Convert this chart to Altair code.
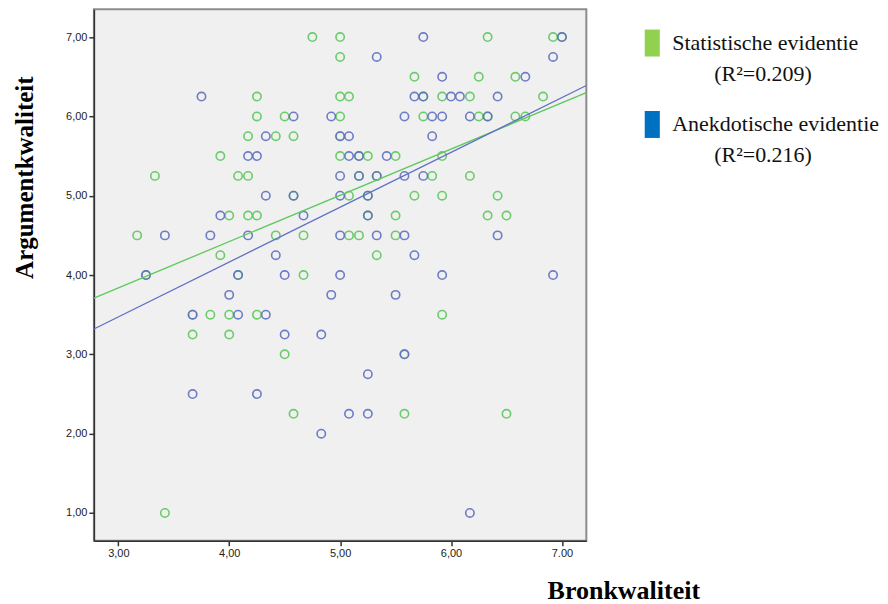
import altair as alt
import pandas as pd

# ---- data ----
series_names = ["Statistische evidentie", "Anekdotische evidentie"]
r_squared = ["0.209", "0.216"]
point_colors = ["#5cc95c", "#6070c4"]
legend_colors = ["#92d050", "#0070c0"]

stat_y = ([7.0]*5 + [6.75] + [6.5]*3 + [6.25]*7 + [6.0]*8 + [5.75]*4 + [5.5]*6 + [5.25]*7
          + [5.0]*6 + [4.75]*7 + [4.5]*6 + [4.25]*2 + [4.0]*3 + [3.5]*5 + [3.25]*2
          + [3.0]*2 + [2.25]*3 + [1.0])
stat_x = [4.75, 5.0, 6.33, 6.92, 7.0,
          5.0,
          5.67, 6.25, 6.58,
          4.25, 5.0, 5.08, 5.75, 5.92, 6.17, 6.83,
          4.25, 4.5, 5.0, 5.75, 6.25, 6.33, 6.58, 6.67,
          4.17, 4.42, 4.58, 5.0,
          3.92, 5.0, 5.17, 5.25, 5.5, 5.92,
          3.33, 4.08, 4.17, 5.17, 5.33, 5.83, 6.17,
          4.58, 5.08, 5.25, 5.67, 5.92, 6.42,
          4.0, 4.17, 4.25, 5.25, 5.5, 6.33, 6.5,
          3.17, 4.42, 4.67, 5.08, 5.17, 5.5,
          3.92, 5.33,
          3.25, 4.08, 4.67,
          3.67, 3.83, 4.0, 4.25, 5.92,
          3.67, 4.0,
          4.5, 5.58,
          4.58, 5.58, 6.5,
          3.42]

anek_y = ([7.0]*2 + [6.75]*2 + [6.5]*2 + [6.25]*6 + [6.0]*7 + [5.75]*4 + [5.5]*5 + [5.25]*5
          + [5.0]*4 + [4.75]*3 + [4.5]*7 + [4.25]*2 + [4.0]*6 + [3.75]*3 + [3.5]*3 + [3.25]*2
          + [3.0] + [2.75] + [2.5]*2 + [2.25]*2 + [2.0] + [1.0])
anek_x = [5.75, 7.0,
          5.33, 6.92,
          5.92, 6.67,
          3.75, 5.67, 5.75, 6.0, 6.08, 6.42,
          4.58, 4.92, 5.58, 5.83, 5.92, 6.17, 6.33,
          4.33, 5.0, 5.08, 5.83,
          4.17, 4.25, 5.08, 5.17, 5.42,
          5.0, 5.17, 5.33, 5.58, 5.75,
          4.33, 4.58, 5.0, 5.25,
          3.92, 4.67, 5.25,
          3.42, 3.83, 4.17, 5.0, 5.33, 5.58, 6.42,
          4.42, 5.67,
          3.25, 4.08, 4.5, 5.0, 5.92, 6.92,
          4.0, 4.92, 5.5,
          3.67, 4.08, 4.33,
          4.5, 4.83,
          5.58,
          5.25,
          3.67, 4.25,
          5.08, 5.25,
          4.83,
          6.17]

# fit lines (end points, at the edges of the x range)
fit_x = [2.78, 7.22]
fit_stat_y = [3.71, 6.30]
fit_anek_y = [3.32, 6.39]

x_ticks = [3, 4, 5, 6, 7]
y_ticks = [1, 2, 3, 4, 5, 6, 7]
x_domain = [2.78, 7.22]
y_domain = [0.65, 7.35]

df = pd.concat([
    pd.DataFrame({"Bronkwaliteit": stat_x, "Argumentkwaliteit": stat_y, "groep": series_names[0]}),
    pd.DataFrame({"Bronkwaliteit": anek_x, "Argumentkwaliteit": anek_y, "groep": series_names[1]}),
], ignore_index=True)

fit_df = pd.concat([
    pd.DataFrame({"Bronkwaliteit": fit_x, "Argumentkwaliteit": fit_stat_y, "groep": series_names[0]}),
    pd.DataFrame({"Bronkwaliteit": fit_x, "Argumentkwaliteit": fit_anek_y, "groep": series_names[1]}),
], ignore_index=True)

legend_df = pd.DataFrame({
    "groep": series_names,
    "r2": [f"(R²={r})" for r in r_squared],
})

color_scale = alt.Scale(domain=series_names, range=point_colors)

x_enc = alt.X("Bronkwaliteit:Q",
              scale=alt.Scale(domain=x_domain, nice=False, zero=False),
              axis=alt.Axis(values=x_ticks, title="Bronkwaliteit", grid=False,
                            labelExpr="datum.value == 7 ? '7.00' : replace(format(datum.value, '.2f'), '.', ',')",
                            titleX=530, titleY=58, titleAlign="center", titleBaseline="alphabetic",
                            titleFont="Liberation Serif", titleFontSize=26, titleFontWeight="bold",
                            titleColor="#000000"))
y_enc = alt.Y("Argumentkwaliteit:Q",
              scale=alt.Scale(domain=y_domain, nice=False, zero=False),
              axis=alt.Axis(values=y_ticks, title="Argumentkwaliteit", grid=False,
                            labelExpr="replace(format(datum.value, '.2f'), '.', ',')",
                            titleX=-61, titleY=168, titleAlign="center", titleBaseline="alphabetic",
                            titleAngle=270,
                            titleFont="Liberation Serif", titleFontSize=25, titleFontWeight="bold",
                            titleColor="#000000"))

points = alt.Chart(df).mark_point(shape="circle", filled=False, size=70, strokeWidth=1.6, opacity=0.9).encode(
    x=x_enc, y=y_enc,
    color=alt.Color("groep:N", scale=color_scale, legend=None),
)

lines = alt.Chart(fit_df).mark_line(strokeWidth=1.3, clip=True).encode(
    x=alt.X("Bronkwaliteit:Q"), y=alt.Y("Argumentkwaliteit:Q"),
    color=alt.Color("groep:N", scale=color_scale, legend=None),
    detail="groep:N",
)

scatter = alt.layer(points, lines).properties(
    width=493, height=532,
    view=alt.ViewBackground(fill="#f0f0f0", stroke="#8c8c8c", strokeWidth=2),
)

leg_base = alt.Chart(legend_df).encode(
    y=alt.Y("groep:N", sort=series_names,
            scale=alt.Scale(type="point", padding=0.414), axis=None),
)
leg_symbols = leg_base.mark_point(
    shape="M-0.56,-1H0.56V1H-0.56Z", filled=True, size=729, opacity=1, strokeWidth=0
).encode(
    color=alt.Color("groep:N", scale=alt.Scale(domain=series_names, range=legend_colors), legend=None)
)
leg_text1 = leg_base.mark_text(
    align="left", baseline="alphabetic", dx=20, dy=7,
    font="Liberation Serif", fontSize=22, color="#111111"
).encode(text="groep:N")
leg_text2 = leg_base.mark_text(
    align="left", baseline="alphabetic", dx=62, dy=38,
    font="Liberation Serif", fontSize=22, color="#111111"
).encode(text="r2:N")

legend_panel = alt.layer(leg_symbols, leg_text1, leg_text2).properties(
    width=20, height=149,
    view=alt.ViewBackground(strokeOpacity=0),
)

chart = alt.hconcat(scatter, legend_panel, spacing=56, bounds="flush").properties(
    padding={"left": 4, "top": 0, "right": 0, "bottom": 0},
    background="#ffffff",
).resolve_scale(color="independent").configure_axis(
    grid=False,
    domainColor="#333333", domainWidth=1.5,
    tickColor="#333333", tickSize=5, tickWidth=1.5,
    labelFont="Liberation Sans Narrow, Liberation Sans", labelFontSize=11, labelColor="#222222",
    labelPadding=2,
)

chart.save("out.html", embed_options={"renderer": "svg", "actions": False})
